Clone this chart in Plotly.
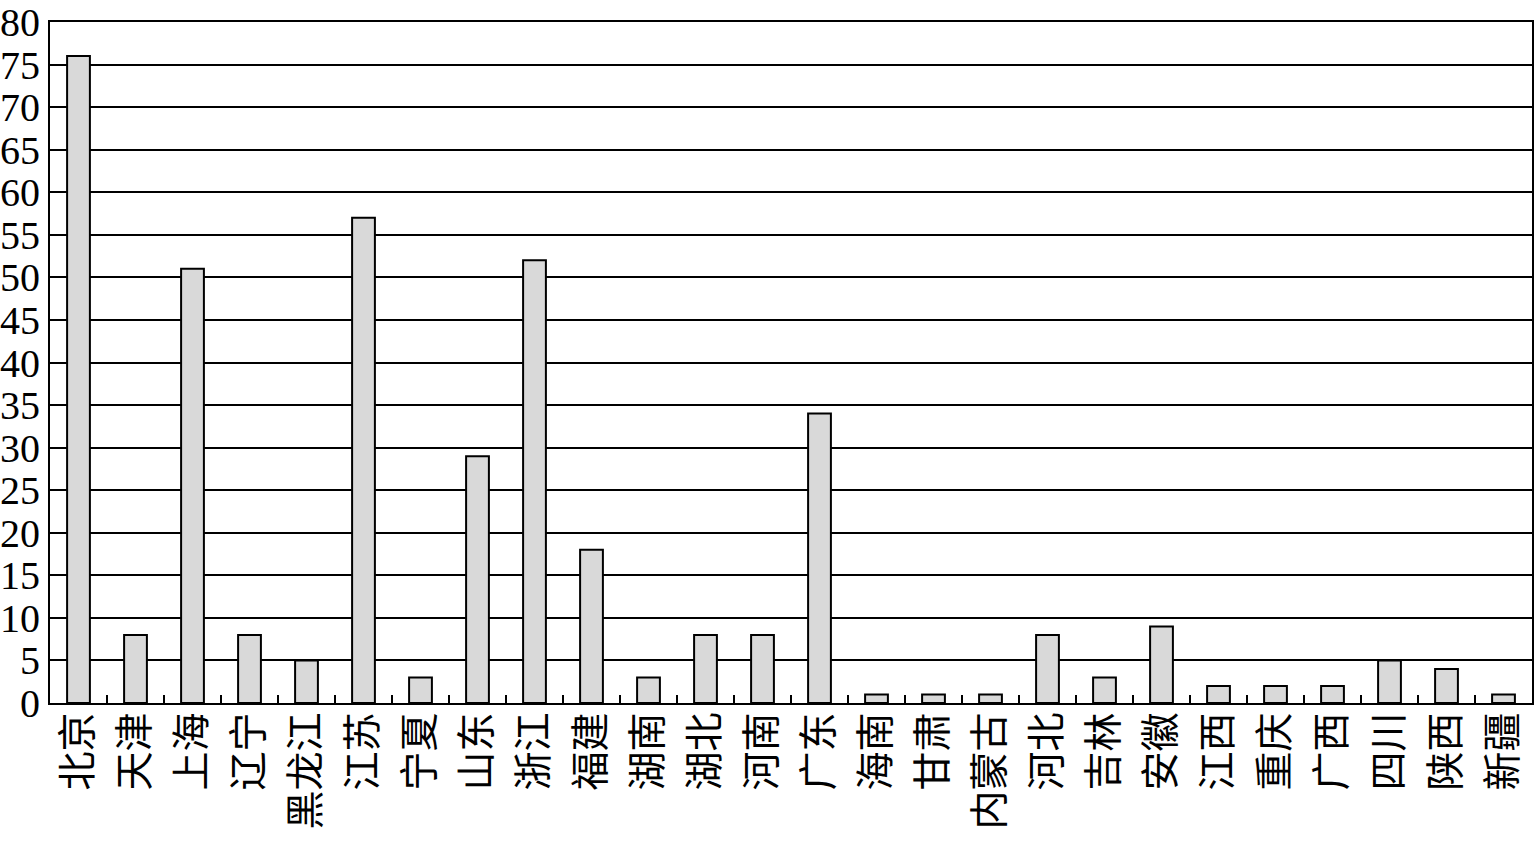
import plotly.graph_objects as go

provinces = ["北京", "天津", "上海", "辽宁", "黑龙江", "江苏", "宁夏", "山东", "浙江", "福建",
             "湖南", "湖北", "河南", "广东", "海南", "甘肃", "内蒙古", "河北", "吉林", "安徽",
             "江西", "重庆", "广西", "四川", "陕西", "新疆"]
counts = [76, 8, 51, 8, 5, 57, 3, 29, 52, 18,
          3, 8, 8, 34, 1, 1, 1, 8, 3, 9,
          2, 2, 2, 5, 4, 1]
y_ticks = list(range(0, 81, 5))

fig = go.Figure(go.Bar(
    x=provinces, y=counts,
    marker=dict(color="#d9d9d9", line=dict(color="black", width=2)),
    width=0.4,
))

fig.update_layout(
    width=1536, height=843,
    margin=dict(l=50, r=4, t=22, b=140),
    paper_bgcolor="white", plot_bgcolor="white",
    showlegend=False,
    font=dict(family="Liberation Serif, Times New Roman, Noto Sans CJK SC", color="black"),
    bargap=0.6,
)
fig.update_xaxes(
    type="category", tickangle=-90, automargin=False, ticklabeloverflow="allow",
    tickfont=dict(size=39, family="Noto Sans CJK SC, Liberation Serif", color="black"),
    ticks="inside", tickson="boundaries", ticklen=8, tickwidth=2, tickcolor="black",
    ticklabelstandoff=-8,
    showline=True, linecolor="black", linewidth=2, mirror=True,
    showgrid=False, range=[-0.5, len(provinces) - 0.5],
)
fig.update_yaxes(
    range=[0, 80], tickvals=y_ticks, ticktext=[str(v) for v in y_ticks],
    automargin=False, ticklabeloverflow="allow",
    tickfont=dict(size=40, family="Liberation Serif, Times New Roman", color="black"),
    showgrid=True, gridcolor="black", gridwidth=2,
    showline=True, linecolor="black", linewidth=2, mirror=True,
    ticks="", zeroline=False,
)
fig.write_html("out.html", config={"displayModeBar": False},
               post_script="document.body.style.margin='0';document.body.style.overflow='hidden';")
